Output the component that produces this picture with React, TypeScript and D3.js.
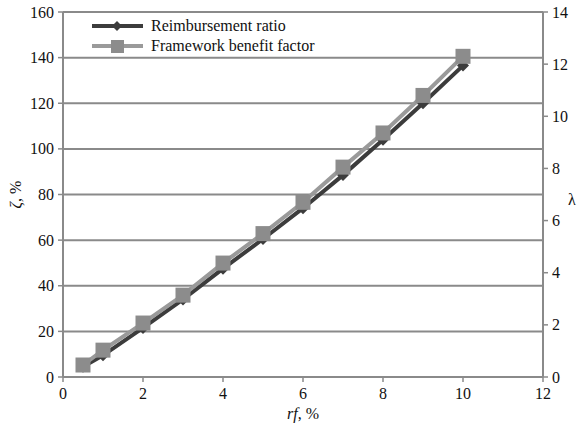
import React from "react";
import * as d3 from "d3";

// rf, %
const rfValues = [0.5, 1, 2, 3, 4, 5, 6, 7, 8, 9, 10];
// Reimbursement ratio ζ, % (left axis)
const reimbursementRatio = [4.5, 9.5, 21.5, 34, 47.5, 60.5, 74, 88.5, 104, 120, 136.5];
// Framework benefit factor λ (right axis)
const frameworkBenefit = [0.46, 1.03, 2.07, 3.14, 4.37, 5.5, 6.7, 8.05, 9.36, 10.8, 12.3];

const xTicks = [0, 2, 4, 6, 8, 10, 12];
const leftTicks = [0, 20, 40, 60, 80, 100, 120, 140, 160];
const rightTicks = [0, 2, 4, 6, 8, 10, 12, 14];

const W = 579;
const H = 427;
const FONT = "'Liberation Serif', 'Times New Roman', serif";
const GRID = "#8a8a8a";
const DARK = "#3c3c3c";
const LIGHT = "#9a9a9a";
const SQUARE = "#8c8c8c";

export default function App() {
  const left = 63, right = 543, top = 12, bottom = 377;
  const x = d3.scaleLinear().domain([0, 12]).range([left, right]);
  const yL = d3.scaleLinear().domain([0, 160]).range([bottom, top]);
  const yR = d3.scaleLinear().domain([0, 14]).range([bottom, top]);

  const darkLine = d3
    .line<number>()
    .x((_, i) => x(rfValues[i]))
    .y((d) => yL(d))(reimbursementRatio) as string;
  const lightLine = d3
    .line<number>()
    .x((_, i) => x(rfValues[i]))
    .y((d) => yR(d))(frameworkBenefit) as string;

  const diamond = (cx: number, cy: number, r: number) =>
    `M${cx},${cy - r}L${cx + r},${cy}L${cx},${cy + r}L${cx - r},${cy}Z`;

  return (
    <svg
      width={W}
      height={H}
      style={{ position: "absolute", left: 0, top: 0, background: "#fff" }}
      fontFamily={FONT}
    >
      {/* horizontal gridlines */}
      {leftTicks.map((t) => (
        <line key={"g" + t} x1={left} x2={right} y1={yL(t)} y2={yL(t)} stroke={GRID} strokeWidth={2} />
      ))}
      {/* axes */}
      <line x1={left} x2={left} y1={top} y2={bottom} stroke={GRID} strokeWidth={2} />
      <line x1={right} x2={right} y1={top} y2={bottom} stroke={GRID} strokeWidth={2} />
      <line x1={left} x2={right} y1={bottom} y2={bottom} stroke={GRID} strokeWidth={2} />

      {/* left ticks */}
      {leftTicks.map((t) => (
        <g key={"l" + t}>
          <line x1={left - 5} x2={left} y1={yL(t)} y2={yL(t)} stroke={GRID} strokeWidth={1.5} />
          <text x={left - 9} y={yL(t)} dy="0.35em" textAnchor="end" fontSize={16} fill="#111">
            {t}
          </text>
        </g>
      ))}
      {/* right ticks */}
      {rightTicks.map((t) => (
        <g key={"r" + t}>
          <line x1={right} x2={right + 5} y1={yR(t)} y2={yR(t)} stroke={GRID} strokeWidth={1.5} />
          <text x={right + 9} y={yR(t)} dy="0.35em" textAnchor="start" fontSize={16} fill="#111">
            {t}
          </text>
        </g>
      ))}
      {/* x ticks */}
      {xTicks.map((t) => (
        <g key={"x" + t}>
          <line x1={x(t)} x2={x(t)} y1={bottom} y2={bottom + 5} stroke={GRID} strokeWidth={1.5} />
          <text x={x(t)} y={bottom + 22} textAnchor="middle" fontSize={16} fill="#111">
            {t}
          </text>
        </g>
      ))}

      {/* axis titles */}
      <text x={x(6)} y={419} textAnchor="middle" fontSize={16} fill="#111">
        <tspan fontStyle="italic">rf</tspan>, %
      </text>
      <text
        transform={`translate(21,${yL(80)}) rotate(-90)`}
        textAnchor="middle"
        fontSize={16}
        fill="#111"
      >
        <tspan fontStyle="italic">ζ</tspan>, %
      </text>
      <text x={572} y={205} textAnchor="middle" fontSize={16} fill="#111">
        λ
      </text>

      {/* series */}
      <path d={darkLine} fill="none" stroke={DARK} strokeWidth={4} />
      {reimbursementRatio.map((v, i) => (
        <path key={"d" + i} d={diamond(x(rfValues[i]), yL(v), 6)} fill={DARK} />
      ))}
      <path d={lightLine} fill="none" stroke={LIGHT} strokeWidth={4} />
      {frameworkBenefit.map((v, i) => (
        <rect
          key={"s" + i}
          x={x(rfValues[i]) - 7.5}
          y={yR(v) - 7.5}
          width={15}
          height={15}
          fill={SQUARE}
        />
      ))}

      {/* legend */}
      <line x1={92} x2={143} y1={26} y2={26} stroke={DARK} strokeWidth={4} />
      <path d={diamond(117, 26, 5)} fill={DARK} />
      <text x={151} y={26} dy="0.32em" fontSize={16} fill="#111">
        Reimbursement ratio
      </text>
      <line x1={92} x2={143} y1={46} y2={46} stroke={LIGHT} strokeWidth={4} />
      <rect x={111} y={40} width={13} height={13} fill={SQUARE} />
      <text x={151} y={46} dy="0.32em" fontSize={16} fill="#111">
        Framework benefit factor
      </text>
    </svg>
  );
}
